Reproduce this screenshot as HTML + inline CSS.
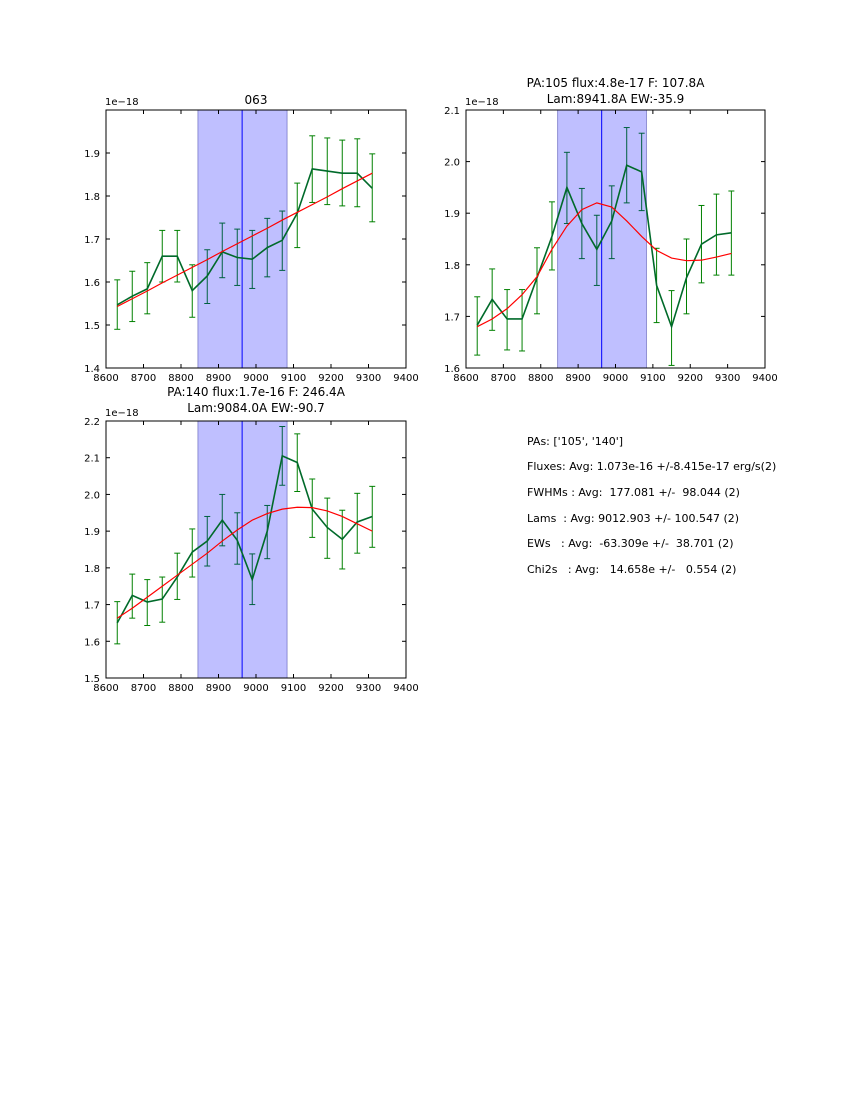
<!DOCTYPE html>
<html><head><meta charset="utf-8"><style>
body{margin:0;background:#fff;}
svg text{font-family:"DejaVu Sans","Liberation Sans",sans-serif;white-space:pre;}
</style></head><body>
<svg id="fig" width="850" height="1100" xmlns="http://www.w3.org/2000/svg" xml:space="preserve">
<g font-size="11" fill="#000">
<text x="527" y="445">PAs: ['105', '140']</text>
<text x="527" y="470">Fluxes: Avg: 1.073e-16 +/-8.415e-17 erg/s(2)</text>
<text x="527" y="496">FWHMs : Avg:  177.081 +/-  98.044 (2)</text>
<text x="527" y="522">Lams  : Avg: 9012.903 +/- 100.547 (2)</text>
<text x="527" y="547">EWs   : Avg:  -63.309e +/-  38.701 (2)</text>
<text x="527" y="573">Chi2s   : Avg:   14.658e +/-   0.554 (2)</text>
</g>
</svg>
<script>
const wavelengths=[8630,8670,8710,8750,8790,8830,8870,8910,8950,8990,9030,9070,9110,9150,9190,9230,9270,9310];
const xTicks=[8600,8700,8800,8900,9000,9100,9200,9300,9400];
const flux063=[1.547,1.567,1.584,1.66,1.66,1.58,1.614,1.67,1.657,1.653,1.68,1.697,1.76,1.863,1.858,1.853,1.853,1.818];
const errLo063=[1.49,1.508,1.526,1.60,1.60,1.518,1.55,1.61,1.592,1.585,1.612,1.627,1.68,1.785,1.78,1.777,1.775,1.74];
const errHi063=[1.605,1.625,1.645,1.72,1.72,1.64,1.675,1.737,1.723,1.72,1.748,1.765,1.83,1.94,1.935,1.93,1.933,1.898];
const fit063=[1.543,1.561,1.579,1.598,1.616,1.634,1.652,1.671,1.689,1.707,1.725,1.744,1.762,1.780,1.798,1.817,1.835,1.853];
const flux105=[1.683,1.733,1.695,1.695,1.775,1.855,1.95,1.88,1.83,1.885,1.993,1.98,1.76,1.68,1.775,1.84,1.858,1.862];
const errLo105=[1.625,1.673,1.635,1.633,1.705,1.79,1.88,1.812,1.76,1.812,1.92,1.905,1.688,1.605,1.705,1.765,1.78,1.78];
const errHi105=[1.738,1.792,1.752,1.752,1.833,1.922,2.018,1.948,1.896,1.953,2.066,2.055,1.832,1.75,1.85,1.915,1.937,1.943];
const fit105=[1.68,1.695,1.715,1.742,1.777,1.83,1.875,1.907,1.92,1.912,1.885,1.855,1.828,1.813,1.808,1.809,1.815,1.822];
const flux140=[1.65,1.725,1.707,1.715,1.775,1.843,1.873,1.93,1.875,1.768,1.9,2.105,2.087,1.96,1.91,1.878,1.925,1.94];
const errLo140=[1.593,1.663,1.643,1.652,1.714,1.775,1.805,1.86,1.81,1.7,1.825,2.025,2.008,1.883,1.826,1.797,1.84,1.856];
const errHi140=[1.708,1.783,1.768,1.775,1.84,1.906,1.94,2.0,1.95,1.838,1.97,2.185,2.165,2.042,1.99,1.957,2.003,2.022];
const fit140=[1.663,1.69,1.72,1.75,1.78,1.81,1.84,1.873,1.903,1.93,1.948,1.96,1.965,1.964,1.955,1.94,1.92,1.9];
const yTicks063=[1.4,1.5,1.6,1.7,1.8,1.9];
const yTicks105=[1.6,1.7,1.8,1.9,2.0,2.1];
const yTicks140=[1.5,1.6,1.7,1.8,1.9,2.0,2.1,2.2];
const spanLo=8845, spanHi=9083, centerLine=8963;

const NS="http://www.w3.org/2000/svg";
const svg=document.getElementById('fig');
function mk(tag,attrs,parent){const e=document.createElementNS(NS,tag);for(const k in attrs)e.setAttribute(k,attrs[k]);(parent||svg).appendChild(e);return e;}

function panel(name,L,T,W,H,ymin,ymax,yTicks,flux,lo,hi,fit,titles,titleY){
  const g=mk('g',{});
  
  
  const xs=v=>L+(v-8600)/800*W;
  const ys=v=>T+H-(v-ymin)/(ymax-ymin)*H;
  const eb=mk('g',{stroke:'#008000','stroke-width':1},g);
  
  
  wavelengths.forEach((w,i)=>{
    const x=xs(w),y1=ys(lo[i]),y2=ys(hi[i]);
    mk('line',{x1:x,x2:x,y1:y1,y2:y2},eb);
    mk('line',{x1:x-3,x2:x+3,y1:y1,y2:y1},eb);
    mk('line',{x1:x-3,x2:x+3,y1:y2,y2:y2},eb);
  });
  const sp=mk('rect',{x:xs(spanLo),y:T,width:xs(spanHi)-xs(spanLo),height:H,fill:'#0000ff','fill-opacity':0.25,stroke:'#000080','stroke-opacity':0.35},g);
  
  
  const cl=mk('line',{x1:xs(centerLine),x2:xs(centerLine),y1:T,y2:T+H,stroke:'#0000ff','stroke-width':1},g);
  
  
  const d=wavelengths.map((w,i)=>(i?'L':'M')+xs(w)+','+ys(flux[i])).join(' ');
  const fl=mk('path',{d:d,fill:'none',stroke:'#006a2a','stroke-width':1.6},g);
  
  
  const df=wavelengths.map((w,i)=>(i?'L':'M')+xs(w)+','+ys(fit[i])).join(' ');
  const ft=mk('path',{d:df,fill:'none',stroke:'#ff0000','stroke-width':1.2},g);
  
  
  mk('rect',{x:L,y:T,width:W,height:H,fill:'none',stroke:'#000','stroke-width':1},g);
  xTicks.forEach(v=>{
    const x=xs(v);
    mk('line',{x1:x,x2:x,y1:T+H,y2:T+H-4,stroke:'#000'},g);
    mk('line',{x1:x,x2:x,y1:T,y2:T+4,stroke:'#000'},g);
    const t=mk('text',{x:x,y:T+H+13,'text-anchor':'middle','font-size':10},g);
    t.textContent=v;
    
    
  });
  yTicks.forEach(v=>{
    const y=ys(v);
    mk('line',{x1:L,x2:L+4,y1:y,y2:y,stroke:'#000'},g);
    mk('line',{x1:L+W,x2:L+W-4,y1:y,y2:y,stroke:'#000'},g);
    const t=mk('text',{x:L-6,y:y+4,'text-anchor':'end','font-size':10},g);
    t.textContent=v.toFixed(1);
    
    
  });
  const ex=mk('text',{x:L-1,y:T-5,'font-size':10},g);
  ex.textContent='1e\u221218';
  
  
  titles.forEach((s,k)=>{
    const t=mk('text',{x:L+W/2,y:titleY+k*16,'text-anchor':'middle','font-size':12},g);
    t.textContent=s;
    
    
  });
}
panel('panel-063',106,110,300,258,1.4,2.0,yTicks063,flux063,errLo063,errHi063,fit063,['063'],104);
panel('panel-pa105',466,110,299,258,1.6,2.1,yTicks105,flux105,errLo105,errHi105,fit105,['PA:105 flux:4.8e-17 F: 107.8A','Lam:8941.8A EW:-35.9'],87);
panel('panel-pa140',106,421,300,257,1.5,2.2,yTicks140,flux140,errLo140,errHi140,fit140,['PA:140 flux:1.7e-16 F: 246.4A','Lam:9084.0A EW:-90.7'],396);
</script>
</body></html>
